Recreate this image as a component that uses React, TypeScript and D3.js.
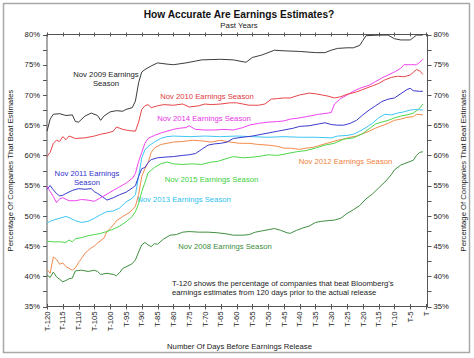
import React, { useEffect, useRef } from "react";
import * as d3 from "d3";

// days before release -> % of companies beating estimates
const xTickDays = [120, 115, 110, 105, 100, 95, 90, 85, 80, 75, 70, 65, 60, 55, 50, 45, 40, 35, 30, 25, 20, 15, 10, 5, 0];
const yTicks = [35, 40, 45, 50, 55, 60, 65, 70, 75, 80];

const nov2009: [number, number][] = [
  [120, 64.0], [119, 66.0], [118, 66.8], [116, 66.9], [114, 66.6], [112, 66.7], [111, 65.6], [110, 65.5],
  [108, 66.5], [106, 67.0], [104, 66.6], [103, 65.8], [102, 66.5], [100, 67.2], [98, 67.4], [96, 67.3],
  [95, 67.6], [93, 67.9], [92, 69.0], [91, 72.0], [90, 73.8], [89, 74.2], [87, 74.8], [85, 75.3],
  [82, 75.1], [80, 75.0], [76, 75.3], [73, 75.6], [71, 75.8], [65, 75.9], [61, 75.8], [57, 75.4],
  [55, 76.2], [52, 76.6], [48, 77.4], [45, 77.3], [40, 77.2], [35, 77.0], [32, 77.0], [30, 77.4],
  [28, 77.7], [25, 77.8], [23, 77.8], [21, 78.2], [20, 79.0], [19, 79.8], [15, 79.9], [12, 79.9],
  [10, 79.3], [8, 79.1], [5, 79.1], [4, 79.5], [3, 79.9], [1, 79.9],
];

const nov2010: [number, number][] = [
  [120, 59.8], [119, 60.5], [118, 62.0], [117, 62.5], [116, 62.3], [115, 63.1], [114, 62.6], [113, 63.2],
  [111, 62.8], [108, 62.9], [105, 63.2], [103, 63.5], [101, 63.7], [99, 64.0], [98, 64.7], [96, 64.3],
  [94, 64.1], [92, 64.0], [91, 65.5], [90, 67.6], [89, 68.2], [88, 68.4], [87, 67.9], [85, 68.2],
  [83, 68.4], [80, 68.3], [77, 68.5], [75, 68.0], [72, 68.2], [70, 68.5], [68, 68.4], [65, 68.5],
  [62, 68.7], [60, 68.7], [58, 68.5], [56, 68.3], [53, 68.3], [51, 68.5], [49, 69.3], [47, 69.4],
  [45, 69.5], [43, 69.5], [40, 70.0], [37, 70.3], [35, 70.2], [33, 70.0], [31, 69.8], [29, 69.5],
  [27, 69.7], [25, 70.1], [22, 70.5], [20, 70.9], [17, 71.5], [15, 71.9], [13, 72.5], [11, 72.9],
  [9, 73.1], [7, 73.0], [5, 73.3], [3, 74.2], [2, 74.0], [1, 73.4],
];

const nov2014: [number, number][] = [
  [120, 54.9], [119, 54.0], [118, 53.2], [117, 52.2], [116, 52.8], [115, 53.0], [113, 52.5], [111, 52.5],
  [109, 52.7], [107, 52.6], [105, 52.4], [103, 53.0], [101, 53.6], [99, 54.2], [97, 54.8], [95, 55.4],
  [93, 56.2], [92, 57.0], [91, 59.0], [90, 60.5], [89, 62.0], [88, 62.8], [86, 63.3], [84, 63.7],
  [82, 64.0], [80, 64.3], [78, 64.5], [76, 64.6], [75, 64.9], [73, 64.3], [70, 64.2], [67, 64.2],
  [64, 64.3], [61, 64.2], [58, 64.6], [56, 65.0], [53, 65.3], [50, 65.5], [47, 65.6], [45, 65.7],
  [43, 66.0], [40, 66.2], [37, 66.5], [34, 66.8], [31, 67.0], [30, 67.1], [29, 68.5], [27, 69.4],
  [25, 70.0], [23, 70.6], [21, 71.1], [18, 71.6], [16, 72.2], [14, 72.8], [12, 73.3], [10, 73.8],
  [8, 74.4], [7, 75.0], [5, 75.0], [3, 75.0], [2, 75.4], [1, 75.9],
];

const nov2011: [number, number][] = [
  [120, 54.4], [119, 55.0], [118, 54.3], [117, 53.7], [116, 53.3], [115, 53.4], [114, 53.7], [112, 54.2],
  [110, 54.5], [108, 54.4], [106, 54.5], [105, 54.0], [104, 53.7], [102, 53.0], [101, 52.6], [99, 53.0],
  [97, 53.5], [95, 53.9], [93, 54.6], [92, 55.0], [91, 56.5], [90, 57.8], [89, 58.0], [88, 58.8],
  [87, 59.3], [85, 59.6], [83, 59.7], [80, 59.8], [77, 60.0], [75, 60.1], [73, 60.3], [71, 61.0],
  [69, 61.7], [67, 61.9], [65, 62.0], [63, 62.2], [61, 62.8], [58, 63.0], [55, 63.2], [52, 63.5],
  [50, 63.7], [47, 64.0], [45, 64.2], [42, 64.5], [40, 64.8], [37, 64.9], [34, 65.2], [32, 65.4],
  [30, 65.1], [28, 65.0], [26, 65.0], [24, 65.3], [22, 65.8], [20, 66.7], [18, 67.5], [16, 68.2],
  [14, 68.9], [12, 69.3], [10, 69.5], [8, 70.2], [6, 70.9], [5, 71.1], [4, 70.7], [2, 70.6], [1, 70.6],
];

const nov2013: [number, number][] = [
  [120, 48.8], [119, 49.1], [118, 49.3], [116, 49.6], [114, 49.9], [113, 49.7], [111, 49.2], [109, 48.9],
  [107, 49.1], [105, 49.6], [103, 50.2], [101, 50.7], [99, 50.8], [97, 51.3], [95, 52.3], [93, 52.9],
  [92, 53.5], [91, 56.5], [90, 59.6], [89, 60.9], [88, 61.5], [86, 62.2], [84, 62.8], [82, 63.1],
  [80, 63.2], [75, 63.1], [70, 63.2], [65, 63.1], [60, 63.2], [55, 63.1], [50, 63.0], [45, 63.1],
  [40, 63.0], [35, 63.0], [30, 62.9], [28, 63.2], [25, 63.3], [23, 63.5], [21, 64.0], [19, 64.6],
  [17, 65.3], [15, 66.2], [13, 66.8], [11, 66.7], [9, 67.0], [7, 67.2], [5, 67.5], [3, 67.6], [1, 67.5],
];

const nov2012: [number, number][] = [
  [120, 41.1], [119, 40.5], [118, 43.2], [117, 42.8], [116, 42.0], [115, 42.2], [114, 41.6], [113, 41.3],
  [112, 41.0], [111, 41.4], [110, 42.3], [109, 43.0], [108, 43.8], [106, 44.7], [105, 45.0], [104, 45.5],
  [102, 46.3], [101, 47.4], [100, 47.9], [99, 48.5], [98, 49.2], [96, 49.9], [94, 50.5], [93, 51.0],
  [92, 51.6], [91, 53.5], [90, 56.5], [89, 57.8], [88, 58.8], [87, 60.5], [86, 61.2], [84, 61.8],
  [82, 62.0], [80, 62.2], [77, 62.3], [74, 62.5], [71, 62.4], [68, 62.2], [65, 62.5], [62, 62.2],
  [59, 62.0], [56, 62.0], [53, 61.8], [50, 61.7], [47, 61.5], [45, 61.2], [43, 61.2], [40, 61.0],
  [38, 61.2], [36, 61.3], [34, 61.6], [32, 61.9], [30, 62.2], [28, 62.5], [26, 62.7], [24, 63.0],
  [22, 63.2], [20, 63.6], [18, 64.0], [16, 64.5], [14, 64.9], [12, 65.3], [10, 65.8], [8, 66.0],
  [6, 66.3], [4, 66.4], [3, 66.8], [1, 66.7],
];

const nov2015: [number, number][] = [
  [120, 45.8], [118, 45.7], [116, 45.7], [114, 45.6], [113, 46.0], [112, 45.7], [111, 46.2], [109, 46.4],
  [107, 46.7], [105, 46.9], [103, 47.1], [101, 47.4], [99, 47.8], [97, 48.3], [95, 49.0], [93, 49.9],
  [92, 50.7], [91, 52.0], [90, 54.0], [89, 55.5], [88, 57.1], [86, 58.0], [84, 58.6], [82, 58.9],
  [80, 58.6], [77, 58.5], [74, 58.6], [71, 58.5], [68, 58.9], [66, 59.0], [63, 59.5], [61, 59.8],
  [58, 59.6], [55, 59.7], [52, 59.9], [50, 60.1], [47, 60.0], [44, 60.3], [41, 60.6], [38, 60.8],
  [35, 61.2], [32, 61.7], [29, 62.0], [26, 62.7], [23, 62.9], [20, 63.6], [18, 64.4], [16, 65.2],
  [14, 65.5], [12, 65.8], [10, 66.2], [8, 66.5], [6, 66.7], [4, 67.0], [2, 67.8], [1, 68.5],
];

const nov2008: [number, number][] = [
  [120, 40.2], [119, 39.8], [118, 40.7], [117, 39.9], [116, 39.5], [115, 39.1], [114, 39.3], [113, 39.6],
  [112, 39.7], [111, 40.9], [109, 41.0], [107, 40.8], [105, 41.0], [104, 40.8], [103, 40.3], [101, 40.5],
  [99, 40.3], [98, 40.1], [97, 40.6], [96, 41.3], [94, 41.8], [93, 42.1], [92, 42.7], [91, 44.0],
  [90, 45.2], [89, 45.6], [88, 45.2], [87, 44.9], [86, 45.4], [85, 45.3], [83, 46.2], [81, 46.8],
  [79, 46.9], [77, 47.3], [75, 47.4], [72, 47.3], [69, 47.3], [66, 47.2], [63, 47.0], [61, 46.8],
  [58, 46.8], [56, 46.9], [54, 47.3], [52, 47.5], [50, 47.7], [48, 47.9], [46, 47.6], [44, 47.2],
  [43, 47.1], [41, 47.6], [39, 48.0], [37, 48.3], [35, 48.9], [33, 49.1], [31, 49.2], [29, 49.3],
  [27, 49.6], [25, 50.4], [23, 51.0], [21, 51.7], [19, 52.8], [17, 53.6], [15, 54.6], [13, 55.6],
  [11, 56.8], [10, 57.6], [8, 58.4], [6, 58.8], [4, 59.2], [3, 60.0], [2, 60.5], [1, 60.6],
];

const series = [
  { data: nov2008, color: "#3f8f3f" },
  { data: nov2012, color: "#f28a4c" },
  { data: nov2015, color: "#4cd84c" },
  { data: nov2013, color: "#3ec6f2" },
  { data: nov2011, color: "#3a3acc" },
  { data: nov2014, color: "#ee44ee" },
  { data: nov2010, color: "#e8454a" },
  { data: nov2009, color: "#3c3c3c" },
];

// annotation text, placed in pixels
const notes = [
  { lines: ["Nov 2009 Earnings", "Season"], x: 106, y: 74, color: "#222", anchor: "middle" },
  { lines: ["Nov 2010 Earnings Season"], x: 207, y: 96.5, color: "#e0373c", anchor: "middle" },
  { lines: ["Nov 2014 Earnings Season"], x: 204, y: 118.5, color: "#e633e6", anchor: "middle" },
  { lines: ["Nov 2011 Earnings", "Season"], x: 87, y: 173, color: "#3333cc", anchor: "middle" },
  { lines: ["Nov 2015 Earnings Season"], x: 211.5, y: 179, color: "#3cd03c", anchor: "middle" },
  { lines: ["Nov 2013 Earnings Season"], x: 184, y: 199, color: "#2ebff0", anchor: "middle" },
  { lines: ["Nov 2012 Earnings Season"], x: 345.5, y: 161, color: "#f0803c", anchor: "middle" },
  { lines: ["Nov 2008 Earnings Season"], x: 225, y: 246, color: "#3a8c3a", anchor: "middle" },
  {
    lines: [
      "T-120 shows the percentage of companies that beat Bloomberg's",
      "earnings estimates from 120 days prior to the actual release",
    ],
    x: 172, y: 283, color: "#222", anchor: "start",
  },
];

const W = 474;
const H = 358;
const FONT = "'Liberation Sans', Arial, sans-serif";

export default function App() {
  const ref = useRef<SVGSVGElement>(null);

  useEffect(() => {
    const svg = d3.select(ref.current);
    svg.selectAll("*").remove();

    const left = 47, right = 427.5, top = 34.5, bottom = 306.5;
    const x = d3.scaleLinear().domain([120, 0]).range([left, 426]);
    const y = d3.scaleLinear().domain([35, 80]).range([bottom, top]);

    svg.append("rect").attr("width", W).attr("height", H).attr("fill", "#fff");
    svg.append("rect")
      .attr("x", 3.5).attr("y", 3.5).attr("width", 466).attr("height", 349)
      .attr("fill", "none").attr("stroke", "#a8a8a8").attr("stroke-width", 1.5);

    // plot frame
    svg.append("rect")
      .attr("x", left).attr("y", top).attr("width", right - left).attr("height", bottom - top)
      .attr("fill", "none").attr("stroke", "#555").attr("stroke-width", 1);

    // y ticks every 2.5, labels every 5
    const yMinor = d3.range(35, 80.1, 2.5);
    const g = svg.append("g").attr("stroke", "#555").attr("stroke-width", 1);
    yMinor.forEach((v) => {
      const yy = Math.round(y(v)) + 0.5;
      g.append("line").attr("x1", left - 4).attr("x2", left).attr("y1", yy).attr("y2", yy);
      g.append("line").attr("x1", right).attr("x2", right + 4).attr("y1", yy).attr("y2", yy);
    });
    xTickDays.forEach((d) => {
      const xx = Math.round(x(d)) + 0.5;
      g.append("line").attr("x1", xx).attr("x2", xx).attr("y1", bottom - 2.5).attr("y2", bottom + 3);
      g.append("line").attr("x1", xx).attr("x2", xx).attr("y1", top - 2).attr("y2", top + 2);
    });

    const txt = svg.append("g").attr("font-family", FONT).attr("fill", "#222");

    yTicks.forEach((v) => {
      txt.append("text").attr("x", 40).attr("y", y(v)).attr("dy", "0.35em")
        .attr("text-anchor", "end").attr("font-size", 7.7).text(`${v}%`);
      txt.append("text").attr("x", 433.5).attr("y", y(v)).attr("dy", "0.35em")
        .attr("text-anchor", "start").attr("font-size", 7.7).text(`${v}%`);
    });

    xTickDays.forEach((d) => {
      txt.append("text")
        .attr("transform", `translate(${x(d)},${bottom + 5}) rotate(-90)`)
        .attr("dy", "0.35em").attr("text-anchor", "end").attr("font-size", 7.7)
        .text(d === 0 ? "T" : `T-${d}`);
    });

    // lines
    const line = d3.line<[number, number]>().x((p) => x(p[0])).y((p) => y(p[1]));
    series.forEach((s) => {
      svg.append("path").datum(s.data).attr("d", line)
        .attr("fill", "none").attr("stroke", s.color).attr("stroke-width", 1)
        .attr("stroke-linejoin", "round");
    });

    notes.forEach((n) => {
      n.lines.forEach((l, i) => {
        txt.append("text").attr("x", n.x).attr("y", n.y + i * 9.8).attr("dy", "0.35em")
          .attr("text-anchor", n.anchor).attr("font-size", 7.7).attr("fill", n.color).text(l);
      });
    });

    // titles
    txt.append("text").attr("x", 239).attr("y", 14).attr("dy", "0.35em")
      .attr("text-anchor", "middle").attr("font-size", 10.2).attr("font-weight", "bold")
      .attr("fill", "#111").text("How Accurate Are Earnings Estimates?");
    txt.append("text").attr("x", 239).attr("y", 25).attr("dy", "0.35em")
      .attr("text-anchor", "middle").attr("font-size", 7.8).text("Past Years");
    txt.append("text").attr("x", 239.5).attr("y", 346).attr("dy", "0.35em")
      .attr("text-anchor", "middle").attr("font-size", 7.7)
      .text("Number Of Days Before Earnings Release");
    const yTitle = "Percentage Of Companies That Beat Estimates";
    [10, 463].forEach((cx) => {
      txt.append("text")
        .attr("transform", `translate(${cx},${(top + bottom) / 2}) rotate(-90)`)
        .attr("dy", "0.35em").attr("text-anchor", "middle").attr("font-size", 7.7)
        .text(yTitle);
    });
  }, []);

  return (
    <svg
      ref={ref}
      width={W}
      height={H}
      style={{ position: "absolute", left: 0, top: 0, display: "block" }}
    />
  );
}
